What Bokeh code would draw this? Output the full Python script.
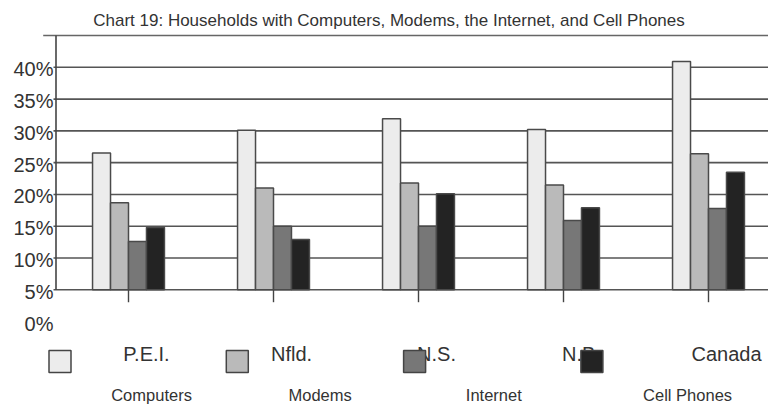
from bokeh.plotting import figure
from bokeh.models import ColumnDataSource, Range1d
from bokeh.core.properties import value
from bokeh.embed import file_html
from bokeh.resources import INLINE

# ---- data -------------------------------------------------------------
title_text = "Chart 19: Households with Computers, Modems, the Internet, and Cell Phones"
provinces = ["P.E.I.", "Nfld.", "N.S.", "N.B.", "Canada"]
series_names = ["Computers", "Modems", "Internet", "Cell Phones"]
computers = [26.5, 30.1, 31.9, 30.2, 40.9]
modems = [18.7, 21.0, 21.8, 21.5, 26.4]
internet = [12.6, 15.0, 15.0, 15.9, 17.8]
cell_phones = [14.8, 12.9, 20.1, 17.9, 23.5]
y_ticks = [0, 5, 10, 15, 20, 25, 30, 35, 40]
y_tick_labels = ["0%", "5%", "10%", "15%", "20%", "25%", "30%", "35%", "40%"]
baseline = 5
top_rule = 45

# ---- styling / layout -------------------------------------------------
colors = ["#ececec", "#bababa", "#777777", "#232323"]
FONT = value("Liberation Sans")
W, H = 768, 405
AXIS_PX = 55.5        # screen x of the value axis
CAT_PX = 145.0        # width of one province slot
BASE_PX = 289.3       # screen y of the baseline
PX_PER_PCT = 6.3575   # vertical scale
BAR_W = 0.124
offsets = [-1.5 * BAR_W, -0.5 * BAR_W, 0.5 * BAR_W, 1.5 * BAR_W]


def sx(px):
    return (px - AXIS_PX) / CAT_PX


def sy(py):
    return baseline - (py - BASE_PX) / PX_PER_PCT


x_range = Range1d(sx(0), sx(W))
y_range = Range1d(sy(H), sy(0))

p = figure(width=W, height=H, x_range=x_range, y_range=y_range,
           output_backend="svg", toolbar_location=None, tools="",
           x_axis_location=None, y_axis_location=None, min_border=0)
p.grid.visible = False
p.outline_line_color = None
p.background_fill_color = "white"
p.border_fill_color = "white"

centers = [i + 0.5 for i in range(len(provinces))]

# horizontal rules
grid_vals = [v for v in y_ticks if v >= baseline]
p.segment(x0=[sx(53)] * len(grid_vals), x1=[x_range.end] * len(grid_vals),
          y0=grid_vals, y1=grid_vals, line_color="#555555", line_width=1.6)
p.segment(x0=[sx(42.7)], x1=[x_range.end], y0=[top_rule], y1=[top_rule],
          line_color="#666666", line_width=1.6)

# bars
for k, vals in enumerate([computers, modems, internet, cell_phones]):
    src = ColumnDataSource(dict(x=[c + offsets[k] for c in centers], top=vals))
    p.vbar(x="x", top="top", bottom=baseline, width=BAR_W, source=src,
           fill_color=colors[k], line_color="#4a4a4a", line_width=1.5)

# value axis line and category ticks
p.segment(x0=[0], x1=[0], y0=[baseline], y1=[top_rule], line_color="#444444", line_width=1.6)
p.segment(x0=centers, x1=centers, y0=[baseline] * len(centers), y1=[sy(301.7)] * len(centers),
          line_color="#444444", line_width=1.4)

# value tick labels
p.text(x=[0] * len(y_ticks), y=y_ticks, text=y_tick_labels, x_offset=-2.5, y_offset=2,
       text_align="right", text_baseline="middle", text_font=FONT,
       text_font_size="20px", text_color="#333333")

# title
p.text(x=[sx(388.5)], y=[sy(19.5)], text=[title_text], text_align="center",
       text_baseline="middle", text_font=FONT, text_font_size="17px", text_color="#333333")

# province labels (under the swatches)
p.text(x=centers, y=[sy(353)] * len(centers), text=provinces, x_offset=18,
       text_align="center", text_baseline="middle", text_font=FONT,
       text_font_size="20px", text_color="#333333")

# legend swatches
sw_x = [sx(59.5 + 177.3 * i) for i in range(len(series_names))]
p.scatter(x=sw_x, y=[sy(361)] * len(sw_x), marker="square", size=22,
          fill_color=colors, line_color="#444444", line_width=1.5)

# legend names
p.text(x=[sx(110.7 + 177.3 * i) for i in range(len(series_names))],
       y=[sy(394.5)] * len(series_names), text=series_names,
       text_align="left", text_baseline="middle", text_font=FONT,
       text_font_size="16.5px", text_color="#333333")

open("out.html", "w").write(file_html(p, INLINE))
